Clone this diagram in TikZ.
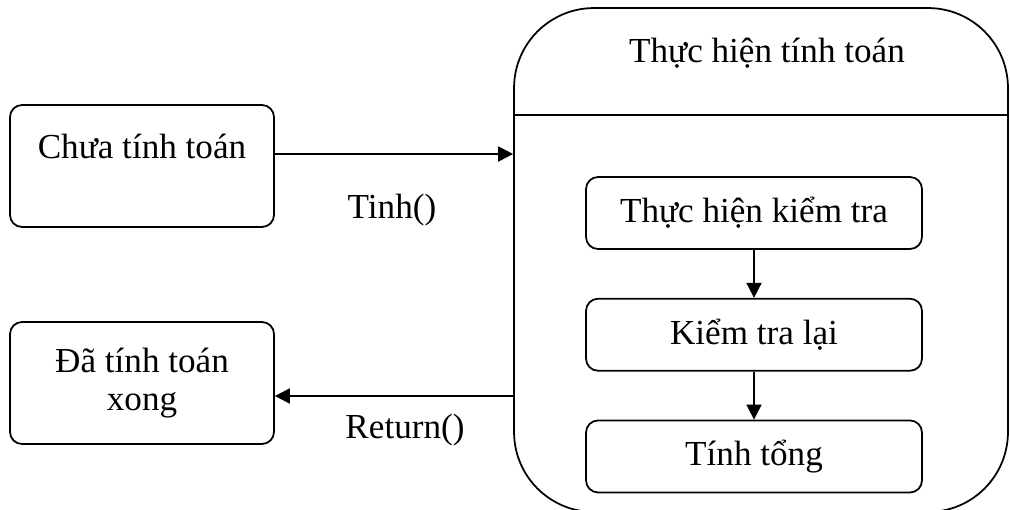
\documentclass[tikz,border=0pt]{standalone}
\usepackage{fontspec}
\setmainfont{Liberation Serif}
\usetikzlibrary{arrows.meta,positioning}

\tikzset{
	statebox/.style={draw, line width=1pt, rounded corners=0.24cm, align=center, inner sep=0pt},
	flow/.style={line width=1pt, -{Triangle[length=0.3cm, width=0.3cm]}}
}

\begin{document}
\begin{tikzpicture}[x=0.02cm, y=-0.02cm, font=\fontsize{20}{22}\selectfont]
			%%%%% START %%%%%
			
			\useasboundingbox (0, 0) rectangle (1010, 510);
			
			\node[statebox, minimum width=5.28cm, minimum height=2.44cm] (chua) at (142, 166) {Chưa tính toán\\\mbox{}};
			\node[statebox, minimum width=5.28cm, minimum height=2.44cm] (xong) at (142, 383) {Đã tính toán\\xong};
			
			\node[statebox, rounded corners=1.6cm, minimum width=9.88cm, minimum height=10.08cm] (tinhtoan) at (761, 260) {};
			\node (tieude) at (767, 53) {Thực hiện tính toán};
			\draw[line width=1pt] (tinhtoan.west |- 0, 115) -- (tinhtoan.east |- 0, 115);
			
			\node[statebox, minimum width=6.72cm, minimum height=1.44cm] (kiemtra) at (754, 213) {Thực hiện kiểm tra};
			\node[statebox, minimum width=6.72cm, minimum height=1.44cm, below=0.96cm of kiemtra] (kiemtralai) {Kiểm tra lại};
			\node[statebox, minimum width=6.72cm, minimum height=1.44cm, below=0.96cm of kiemtralai] (tong) {Tính tổng};
			
			\draw[flow] (kiemtra) -- (kiemtralai);
			\draw[flow] (kiemtralai) -- (tong);
			
			\draw[flow] ([yshift=0.24cm]chua.east) coordinate (tinhdau) -- (tinhdau -| tinhtoan.west);
			\draw[flow] ([yshift=-0.26cm]xong.east -| tinhtoan.west) -- ([yshift=-0.26cm]xong.east);
			
			\node (tinh) at (392, 210) {Tinh()};
			\node (return) at (405, 430) {Return()};
			
			%%%%% END %%%%%
		\end{tikzpicture}
\end{document}
